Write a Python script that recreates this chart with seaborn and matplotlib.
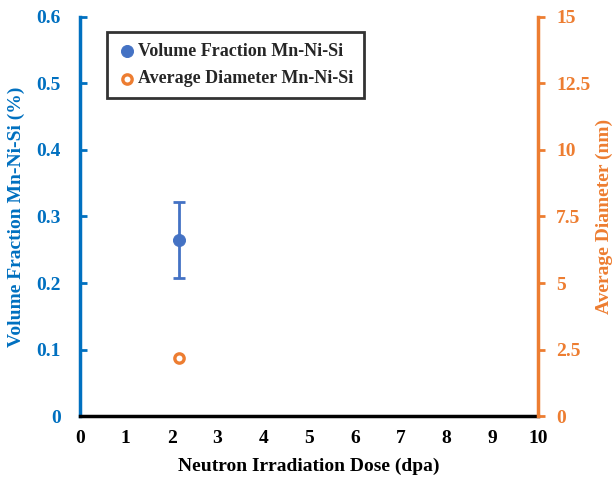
import pandas as pd
import seaborn as sns
import matplotlib.pyplot as plt

dose = [2.16]
vol_frac = [0.265]
vol_err = [0.057]
diam = [2.2]
diam_err = [0.08]

blue = '#0070C0'
marker_blue = '#4472C4'
orange = '#ED7D31'

sns.set_style('white')
plt.rcParams['font.family'] = ['Liberation Serif', 'DejaVu Serif']
plt.rcParams['font.weight'] = 'bold'

fig = plt.figure(figsize=(6.15, 4.8), dpi=100)
ax = fig.add_axes([0.130, 0.133, 0.745, 0.832])
ax2 = ax.twinx()

df_v = pd.DataFrame({'dose': dose, 'vf': vol_frac})
df_d = pd.DataFrame({'dose': dose, 'd': diam})

ax.errorbar(dose, vol_frac, yerr=vol_err, fmt='none', ecolor=marker_blue,
            elinewidth=2, capsize=4, capthick=2, zorder=2)
sns.scatterplot(data=df_v, x='dose', y='vf', ax=ax, color=marker_blue, s=75,
                edgecolor=marker_blue, zorder=3, label='Volume Fraction Mn-Ni-Si',
                legend=False)

ax2.errorbar(dose, diam, yerr=diam_err, fmt='none', ecolor=orange,
             elinewidth=2, capsize=3, capthick=2, zorder=2)
sns.scatterplot(data=df_d, x='dose', y='d', ax=ax2, facecolor='white',
                edgecolor=orange, linewidth=2.4, s=45, zorder=3,
                label='Average Diameter Mn-Ni-Si', legend=False)

ax.set_xlim(0, 10)
ax.set_ylim(0, 0.6)
ax2.set_ylim(0, 15)
ax.set_xticks(range(0, 11))
ax.set_yticks([0, 0.1, 0.2, 0.3, 0.4, 0.5, 0.6])
ax.set_yticklabels(['0', '0.1', '0.2', '0.3', '0.4', '0.5', '0.6'])
ax2.set_yticks([0, 2.5, 5, 7.5, 10, 12.5, 15])
ax2.set_yticklabels(['0', '2.5', '5', '7.5', '10', '12.5', '15'])

for a in (ax, ax2):
    for s in a.spines.values():
        s.set_visible(False)
ax.spines['left'].set_visible(True)
ax.spines['left'].set_color(blue)
ax.spines['left'].set_linewidth(2.5)
ax.spines['bottom'].set_visible(True)
ax.spines['bottom'].set_color('black')
ax.spines['bottom'].set_linewidth(2.5)
ax2.spines['right'].set_visible(True)
ax2.spines['right'].set_color(orange)
ax2.spines['right'].set_linewidth(2.5)

ax.tick_params(axis='x', direction='in', length=5, width=2, color='black',
               labelsize=14, labelcolor='black', pad=10)
ax.tick_params(axis='y', direction='in', length=5, width=2, color=blue,
               labelsize=14, labelcolor=blue, pad=14)
ax2.tick_params(axis='y', direction='out', length=5, width=2, color=orange,
                labelsize=14, labelcolor=orange, pad=8)
for lab in ax.get_xticklabels() + ax.get_yticklabels() + ax2.get_yticklabels():
    lab.set_fontweight('bold')

ax.set_xlabel('Neutron Irradiation Dose (dpa)', fontsize=14, fontweight='bold',
              color='black', labelpad=8)
ax.set_ylabel('Volume Fraction Mn-Ni-Si (%)', fontsize=14, fontweight='bold', color=blue)
ax.yaxis.set_label_coords(-0.12, 0.5)
ax2.set_ylabel('Average Diameter (nm)', fontsize=14, fontweight='bold', color=orange)
ax2.yaxis.set_label_coords(1.125, 0.5)

h1, l1 = ax.get_legend_handles_labels()
h2, l2 = ax2.get_legend_handles_labels()
leg = ax.legend(h1 + h2, l1 + l2, loc='upper left', bbox_to_anchor=(0.04, 0.985),
                frameon=True, fancybox=False, edgecolor='black', handletextpad=0.1,
                handlelength=1.0, borderpad=0.6, labelspacing=0.6,
                prop={'size': 13, 'weight': 'bold'})
leg.get_frame().set_linewidth(2)

fig.savefig('out.png', dpi=100)
